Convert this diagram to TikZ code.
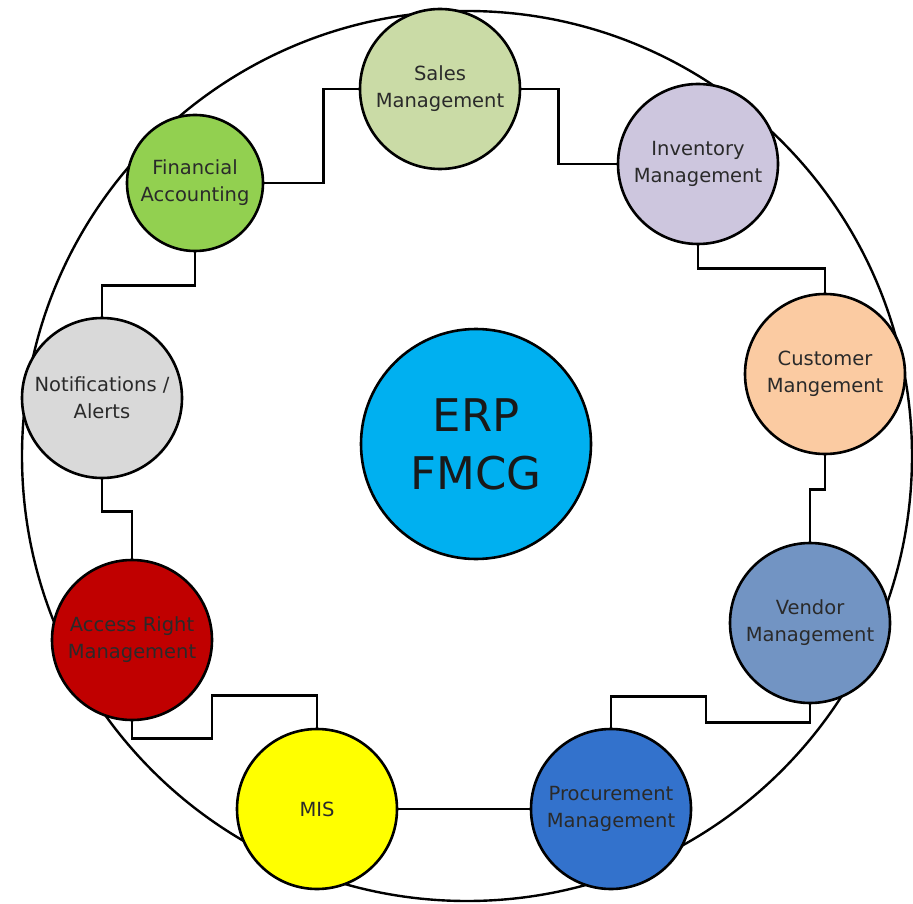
\documentclass[tikz,border=0pt]{standalone}
\usepackage{fontspec}
\setmainfont{DejaVu Sans}
\definecolor{salesc}{HTML}{CADBA6}
\definecolor{invc}{HTML}{CDC6DE}
\definecolor{finc}{HTML}{92D050}
\definecolor{notc}{HTML}{D9D9D9}
\definecolor{custc}{HTML}{FBCBA2}
\definecolor{vendc}{HTML}{7294C3}
\definecolor{procc}{HTML}{3372CC}
\definecolor{misc}{HTML}{FFFF00}
\definecolor{accc}{HTML}{C00000}
\definecolor{erpc}{HTML}{00B0F0}
\definecolor{txtc}{HTML}{2A2A2A}
\begin{document}
\begin{tikzpicture}[x=1pt,y=-1pt,
  module/.style={circle,draw=black,line width=2.6pt,minimum size=160pt,inner sep=0pt,
    align=center,text=txtc,font=\fontsize{19.5}{27}\selectfont},
  link/.style={draw=black,line width=2.8pt},
  ringstyle/.style={circle,draw=black,line width=2.4pt,minimum size=890pt,inner sep=0pt}]
\useasboundingbox (0,0) rectangle (913,904);
\node[ringstyle] (ring) at (467,456) {};
\node[circle,draw=black,line width=2.6pt,minimum size=230pt,inner sep=0pt,fill=erpc,
  align=center,font=\fontsize{45}{58}\selectfont,text=black!90] (erp) at (476,444) {ERP\\FMCG};
\node[module,fill=salesc] (sales) at (440,89) {Sales\\Management};
\node[module,fill=invc] (inv) at (698,164) {Inventory\\Management};
\node[module,fill=finc,minimum size=136pt] (fin) at (195,183) {Financial\\Accounting};
\node[module,fill=notc] (notif) at (102,398) {Notifications /\\Alerts};
\node[module,fill=custc] (cust) at (825,374) {Customer\\Mangement};
\node[module,fill=vendc] (vend) at (810,623) {Vendor\\Management};
\node[module,fill=procc] (proc) at (611,809) {Procurement\\Management};
\node[module,fill=misc] (mis) at (317,809) {MIS};
\node[module,fill=accc] (acc) at (132,640) {Access Right\\Management};
\draw[link] (fin.east) -- ++(59,0) |- (sales.west);
\draw[link] (sales.east) -- ++(37,0) |- (inv.west);
\draw[link] (inv.south) -- ++(0,23) -| (cust.north);
\draw[link] (cust.south) -- ++(0,34) -| (vend.north);
\draw[link] (vend.south) -- ++(0,18) -- ++(-104,0) -- ++(0,-26) -| (proc.north);
\draw[link] (mis.east) -- (proc.west);
\draw[link] (mis.north) -- ++(0,-32) -- ++(-105,0) -- ++(0,43) -| (acc.south);
\draw[link] (acc.north) -- ++(0,-47) -| (notif.south);
\draw[link] (notif.north) -- ++(0,-31) -| (fin.south);
\end{tikzpicture}
\end{document}
